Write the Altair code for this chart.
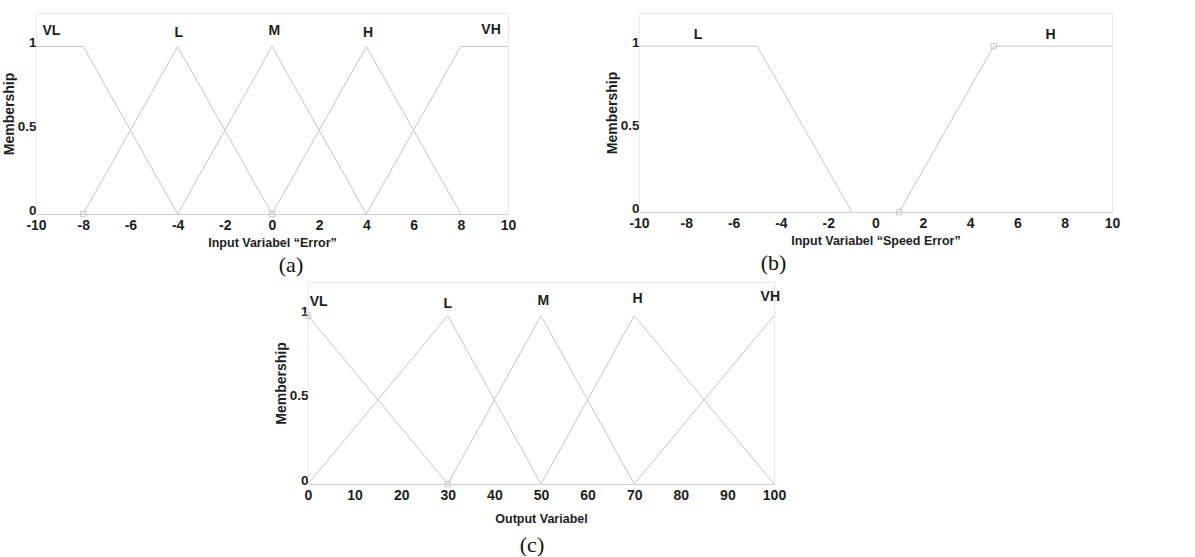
import altair as alt
import pandas as pd

# ---------------- data ----------------
# Panel (a): Input "Error"
A_NAMES = ["VL", "L", "M", "H", "VH"]
A_X = [[-10, -8, -4], [-8, -4, 0], [-4, 0, 4], [0, 4, 8], [4, 8, 10]]
A_Y = [[1, 1, 0], [0, 1, 0], [0, 1, 0], [0, 1, 0], [0, 1, 1]]
A_LABEL_X = [-9.35, -3.95, 0.1, 4.07, 9.28]
A_LABEL_Y = [1.09, 1.08, 1.09, 1.08, 1.1]
A_TICKS = [-10, -8, -6, -4, -2, 0, 2, 4, 6, 8, 10]
A_MARK_X = [-8, 0]
A_MARK_Y = [0, 0]

# Panel (b): Input "Speed Error"
B_NAMES = ["L", "H"]
B_X = [[-10, -5, -1], [1, 5, 10]]
B_Y = [[1, 1, 0], [0, 1, 1]]
B_LABEL_X = [-7.5, 7.4]
B_LABEL_Y = [1.07, 1.07]
B_TICKS = [-10, -8, -6, -4, -2, 0, 2, 4, 6, 8, 10]
B_MARK_X = [5, 1]
B_MARK_Y = [1, 0]

# Panel (c): Output
C_NAMES = ["VL", "L", "M", "H", "VH"]
C_X = [[0, 30], [0, 30, 50], [30, 50, 70], [50, 70, 100], [70, 100]]
C_Y = [[1, 0], [0, 1, 0], [0, 1, 0], [0, 1, 0], [0, 1]]
C_LABEL_X = [2.3, 30, 50.5, 70.7, 99.2]
C_LABEL_Y = [1.08, 1.07, 1.09, 1.1, 1.11]
C_TICKS = [0, 10, 20, 30, 40, 50, 60, 70, 80, 90, 100]
C_MARK_X = [0, 30]
C_MARK_Y = [1, 0]

SANS = "Liberation Sans, Arial, sans-serif"
SERIF = "Liberation Serif, Times New Roman, serif"
LINE = "#c6c6c6"
TXT = "#1e1e1e"


def lines_df(names, xs, ys):
    rows = []
    for n, xl, yl in zip(names, xs, ys):
        for i, (x, y) in enumerate(zip(xl, yl)):
            rows.append({"mf": n, "i": i, "x": x, "y": y})
    return pd.DataFrame(rows)


def panel(names, xs, ys, lx, ly, mx, my, ticks, xtitle, caption, width, height,
          cap_dx, title_pad=4, cap_off=6):
    xd = [ticks[0], ticks[-1]]
    xscale = alt.Scale(domain=xd, nice=False, zero=False)
    yscale = alt.Scale(domain=[0, 1.2], nice=False)
    xaxis = alt.Axis(
        values=ticks, title=xtitle, grid=False, ticks=False,
        labelExpr="'' + datum.value",
        labelFont=SANS, labelFontSize=14, labelFontWeight="bold", labelColor=TXT,
        labelPadding=4, labelFlush=False,
        titleFont=SANS, titleFontSize=12.5, titleFontWeight="bold", titleColor=TXT,
        titlePadding=title_pad, domainColor="#cfcfcf",
    )
    yaxis = alt.Axis(
        values=[0, 0.5, 1], labelExpr="'' + datum.value", title="Membership",
        grid=False, ticks=False,
        labelFont=SANS, labelFontSize=13.5, labelFontWeight="bold", labelColor=TXT,
        labelPadding=0, labelBaseline="alphabetic",
        titleFont=SANS, titleFontSize=14, titleFontWeight="bold", titleColor=TXT,
        titlePadding=1, domainColor="#ececec",
    )
    df = lines_df(names, xs, ys)
    base_line = alt.Chart(df).mark_line(color=LINE, strokeWidth=1).encode(
        x=alt.X("x:Q", scale=xscale, axis=xaxis),
        y=alt.Y("y:Q", scale=yscale, axis=yaxis),
        detail="mf:N",
        order="i:O",
    )
    lab = pd.DataFrame({"t": names, "x": lx, "y": ly})
    text = alt.Chart(lab).mark_text(
        font=SANS, fontSize=14, fontWeight="bold", color=TXT
    ).encode(x=alt.X("x:Q", scale=xscale), y=alt.Y("y:Q", scale=yscale), text="t:N")
    mk = pd.DataFrame({"x": mx, "y": my})
    marks = alt.Chart(mk).mark_point(
        shape="square", size=30, color="#b5b5b5", filled=False, strokeWidth=1
    ).encode(x=alt.X("x:Q", scale=xscale), y=alt.Y("y:Q", scale=yscale))
    return alt.layer(base_line, marks, text).properties(
        width=width, height=height,
        title=alt.TitleParams(
            text=caption, orient="bottom", anchor="middle", frame="group", font=SERIF,
            fontSize=22, fontWeight="normal", color="#111", dx=cap_dx, offset=cap_off,
        ),
    )


pa = panel(A_NAMES, A_X, A_Y, A_LABEL_X, A_LABEL_Y, A_MARK_X, A_MARK_Y, A_TICKS,
           "Input Variabel \u201cError\u201d", "(a)", 472, 201, 19)
pb = panel(B_NAMES, B_X, B_Y, B_LABEL_X, B_LABEL_Y, B_MARK_X, B_MARK_Y, B_TICKS,
           "Input Variabel \u201cSpeed Error\u201d", "(b)", 473, 199, -102)
pc = panel(C_NAMES, C_X, C_Y, C_LABEL_X, C_LABEL_Y, C_MARK_X, C_MARK_Y, C_TICKS,
           "Output Variabel", "(c)", 466, 202, -9, title_pad=10, cap_off=10)

spacer = alt.Chart(pd.DataFrame({"x": [0]})).mark_point(opacity=0).encode(
    x=alt.X("x:Q", axis=None), y=alt.Y("x:Q", axis=None)
).properties(width=200, height=10, view=alt.ViewBackground(stroke="transparent"))

top = alt.hconcat(pa, pb, spacing=87)
bottom = alt.hconcat(spacer, pc, spacing=36)
chart = alt.vconcat(top, bottom, spacing=5).properties(
    padding={"left": 1, "top": 12, "right": 0, "bottom": 0},
    background="white",
).configure_view(stroke="#e8e8e8", strokeWidth=1)

chart.save("out.html", embed_options={"renderer": "svg", "actions": False})
